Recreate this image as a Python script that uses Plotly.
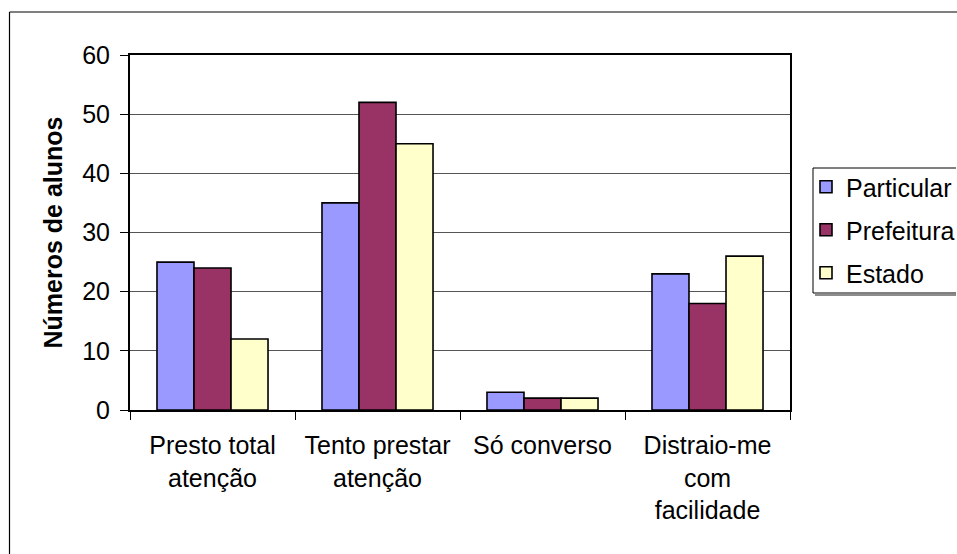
import plotly.graph_objects as go

# Survey answers: how students behave during class, by school type
categorias = [
    "Presto total<br>atenção",
    "Tento prestar<br>atenção",
    "Só converso",
    "Distraio-me<br>com<br>facilidade",
]
particular = [25, 35, 3, 23]
prefeitura = [24, 52, 2, 18]
estado = [12, 45, 2, 26]

series = [
    ("Particular", particular, "#9999FF"),
    ("Prefeitura", prefeitura, "#993366"),
    ("Estado", estado, "#FFFFCC"),
]

W, H = 957, 554
PL, PR, PT, PB = 130, 790, 55, 410  # plot area in pixels


def px_x(v):
    return (v - PL) / (PR - PL)


def px_y(v):
    return (PB - v) / (PB - PT)


def line(x0, y0, x1, y1, color="black", width=1.0):
    return dict(type="line", xref="paper", yref="paper",
                x0=px_x(x0), x1=px_x(x1), y0=px_y(y0), y1=px_y(y1),
                line=dict(color=color, width=width), layer="above")


FONT = "Liberation Sans, Arial, sans-serif"

fig = go.Figure()
for i, (nome, vals, cor) in enumerate(series):
    fig.add_trace(go.Bar(
        name=nome,
        x=categorias,
        y=vals,
        marker=dict(color=cor, line=dict(color="black", width=1.6)),
        legendgroup=f"g{i}",
    ))

shapes = [
    # outer chart frame: left and top edges (the rest runs past the page)
    line(9.5, 12, 9.5, H + 20, width=1.2),
    line(9.5, 12, W + 20, 12, width=1.2),
    # legend box with a soft shadow under its lower edge
    line(815, 295, W - 1, 295, color="#8c8c8c", width=2),
    line(813, 168, W - 1, 168),
    line(813, 168, 813, 293),
    line(813, 293, W - 1, 293),
]

fig.update_layout(
    width=W, height=H,
    margin=dict(l=PL, r=W - PR, t=PT, b=H - PB, autoexpand=False),
    paper_bgcolor="white",
    plot_bgcolor="white",
    font=dict(family=FONT, size=25, color="black"),
    barmode="group",
    bargap=0.327,
    bargroupgap=0,
    showlegend=True,
    legend=dict(
        x=px_x(806), y=px_y(164), xanchor="left", yanchor="top",
        bgcolor="rgba(0,0,0,0)", borderwidth=0,
        font=dict(family=FONT, size=25, color="black"),
        tracegroupgap=7.5,
        traceorder="grouped",
    ),
    shapes=shapes,
)

fig.update_xaxes(
    type="category",
    showline=True, linecolor="black", linewidth=2, mirror=True,
    ticks="outside", tickson="boundaries", ticklen=8, tickwidth=1.2,
    tickcolor="black",
    showgrid=False,
    ticklabelstandoff=12,
    tickfont=dict(family=FONT, size=25, color="black"),
)

fig.update_yaxes(
    range=[0, 60], dtick=10, tick0=0,
    showline=True, linecolor="black", linewidth=2, mirror=True,
    ticks="outside", ticklen=8, tickwidth=1.2, tickcolor="black",
    showgrid=True, gridcolor="#555555", gridwidth=1,
    zeroline=False,
    ticklabelstandoff=5,
    tickfont=dict(family=FONT, size=25, color="black"),
    title=dict(text="<b>Números de alunos</b>",
               font=dict(family=FONT, size=25, color="black"),
               standoff=12),
)

fig.write_html("out.html")
